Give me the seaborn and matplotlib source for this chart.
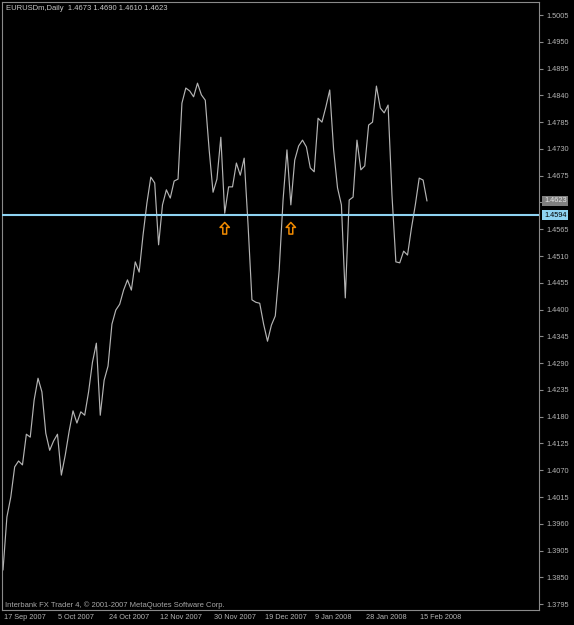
import numpy as np
import pandas as pd
import matplotlib
matplotlib.use("Agg")
import matplotlib.pyplot as plt
import matplotlib.transforms as mtransforms
from matplotlib.path import Path
import seaborn as sns

# ---------------- data ----------------
symbol_title = "EURUSDm,Daily  1.4673 1.4690 1.4610 1.4623"
footer_text = "Interbank FX Trader 4, \u00a9 2001-2007 MetaQuotes Software Corp."

close = [
    1.3865, 1.3974, 1.4015, 1.4077, 1.4089, 1.4081, 1.4144, 1.4138, 1.4214, 1.4259,
    1.4231, 1.4146, 1.4111, 1.4130, 1.4144, 1.4060, 1.4101, 1.4150, 1.4192, 1.4167,
    1.4190, 1.4183, 1.4231, 1.4292, 1.4331, 1.4183, 1.4255, 1.4284, 1.4370, 1.4399,
    1.4411, 1.4440, 1.4461, 1.4440, 1.4498, 1.4477, 1.4553, 1.4619, 1.4672, 1.4660,
    1.4533, 1.4615, 1.4646, 1.4629, 1.4664, 1.4668, 1.4824, 1.4855, 1.4849, 1.4837,
    1.4865, 1.4841, 1.4830, 1.4728, 1.4641, 1.4668, 1.4754, 1.4598, 1.4652, 1.4652,
    1.4701, 1.4676, 1.4711, 1.4574, 1.4420, 1.4415, 1.4413, 1.4370, 1.4335, 1.4368,
    1.4387, 1.4481, 1.4625, 1.4728, 1.4615, 1.4707, 1.4736, 1.4748, 1.4734, 1.4691,
    1.4683, 1.4793, 1.4785, 1.4816, 1.4851, 1.4728, 1.4650, 1.4615, 1.4424, 1.4625,
    1.4631, 1.4748, 1.4687, 1.4695, 1.4779, 1.4785, 1.4859, 1.4814, 1.4804, 1.4820,
    1.4635, 1.4498, 1.4496, 1.4520, 1.4512, 1.4567, 1.4615, 1.4670, 1.4666, 1.4623,
]
bars = list(range(len(close)))

date_tick_bars = [0, 14, 27, 40, 54, 67, 80, 93, 107]
date_tick_labels = ["17 Sep 2007", "5 Oct 2007", "24 Oct 2007", "12 Nov 2007",
                    "30 Nov 2007", "19 Dec 2007", "9 Jan 2008", "28 Jan 2008", "15 Feb 2008"]

price_ticks = [1.5005, 1.4950, 1.4895, 1.4840, 1.4785, 1.4730, 1.4675, 1.4620,
               1.4565, 1.4510, 1.4455, 1.4400, 1.4345, 1.4290, 1.4235, 1.4180,
               1.4125, 1.4070, 1.4015, 1.3960, 1.3905, 1.3850, 1.3795]
hidden_price_tick = 1.4620

hline_price = 1.4594
last_price = 1.4623

signal_bars = [57, 74]
signal_prices = [1.4567, 1.4567]

# ---------------- style ----------------
sns.set_style("dark")
plt.rcParams['font.family'] = ['Liberation Sans', 'DejaVu Sans']

W, H = 574, 625
fig = plt.figure(figsize=(W / 100, H / 100), dpi=100, facecolor='black')
left_px, right_px, top_px, bottom_px = 2, 539, 2, 610
ax = fig.add_axes([left_px / W, 1 - bottom_px / H,
                   (right_px - left_px) / W, (bottom_px - top_px) / H])
ax.set_facecolor('black')

df = pd.DataFrame({"bar": bars, "close": close})
sns.lineplot(data=df, x="bar", y="close", ax=ax, color='#b4b4b4', lw=0.85)

ax.set_xlim(-0.26, 137.8)
ax.set_ylim(1.3783, 1.50317)
ax.set_xlabel("")
ax.set_ylabel("")
ax.grid(False)

for sp in ax.spines.values():
    sp.set_visible(True)
    sp.set_color('#8a8a8a')
    sp.set_linewidth(0.8)

# horizontal line
ax.axhline(hline_price, color='#8fd3f2', lw=1.5, zorder=3)

# signal arrows
arrow_path = Path([(0, 1), (0.8, 0.15), (0.33, 0.15), (0.33, -1),
                   (-0.33, -1), (-0.33, 0.15), (-0.8, 0.15), (0, 1)],
                  [Path.MOVETO] + [Path.LINETO] * 6 + [Path.CLOSEPOLY])
ax.scatter(signal_bars, signal_prices, marker=arrow_path, s=70,
           facecolors='none', edgecolors='#f08a00', linewidths=1.1, zorder=4)

# y axis on the right
ax.yaxis.tick_right()
ax.set_yticks(price_ticks)
ax.set_yticklabels(["" if p == hidden_price_tick else f"{p:.4f}" for p in price_ticks])
ax.tick_params(axis='y', direction='out', length=3, width=0.8, color='#8a8a8a',
               labelsize=5.3, labelcolor='#b4b4b4', pad=2, left=False, right=True)

# x axis
ax.set_xticks(date_tick_bars)
ax.set_xticklabels(date_tick_labels, ha='left')
ax.tick_params(axis='x', direction='out', length=4, width=0.8, color='#8a8a8a',
               labelsize=5.3, labelcolor='#b4b4b4', pad=-0.8)
offset = mtransforms.ScaledTranslation(1 / 100, 0, fig.dpi_scale_trans)
for lab in ax.get_xticklabels():
    lab.set_transform(lab.get_transform() + offset)

# price boxes on the right axis
ytrans = mtransforms.blended_transform_factory(ax.transAxes, ax.transData)
xbox = (544 - left_px) / (right_px - left_px)
ax.text(xbox, last_price, f"{last_price:.4f}", transform=ytrans, fontsize=5.3,
        color='#e6e6e6', va='center', ha='left', clip_on=False,
        bbox=dict(boxstyle='square,pad=0.25', fc='#808080', ec='none'))
ax.text(xbox, hline_price, f"{hline_price:.4f}", transform=ytrans, fontsize=5.3,
        color='#000000', va='center', ha='left', clip_on=False,
        bbox=dict(boxstyle='square,pad=0.25', fc='#8fd3f2', ec='none'))

# title and footer
ax.text(4 / (right_px - left_px), 1 - 6 / (bottom_px - top_px), symbol_title,
        transform=ax.transAxes, fontsize=5.5, color='#c8c8c8', va='center', ha='left')
ax.text(3 / (right_px - left_px), 5 / (bottom_px - top_px), footer_text,
        transform=ax.transAxes, fontsize=5.5, color='#a8a8a8', va='center', ha='left')

fig.savefig("out.png", dpi=100, facecolor='black')
